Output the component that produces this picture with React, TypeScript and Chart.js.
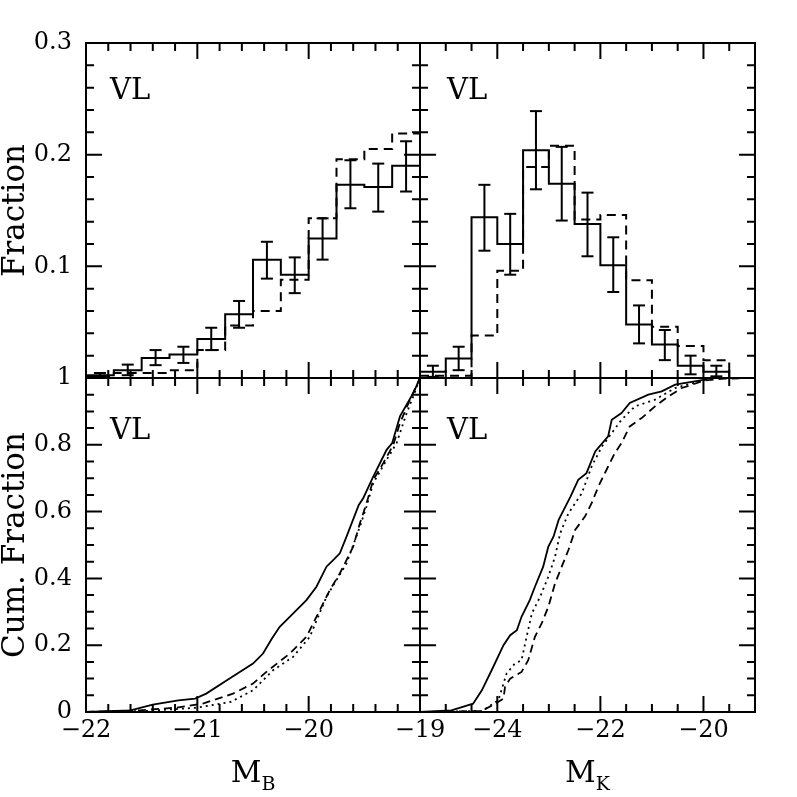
import { useEffect, useRef } from "react";
import Chart from "chart.js/auto";

const FONT = "'DejaVu Serif', 'Liberation Serif', serif";
Chart.defaults.font.family = FONT;
Chart.defaults.color = "#000";

// ---- top left: M_B distribution, 0.25 mag bins
const bEdges = [-22, -21.75, -21.5, -21.25, -21, -20.75, -20.5, -20.25, -20, -19.75, -19.5, -19.25, -19];
const bSolid = [0.0025, 0.007, 0.018, 0.021, 0.035, 0.057, 0.106, 0.0925, 0.125, 0.173, 0.171, 0.19];
const bSolidHi = [0.0045, 0.012, 0.025, 0.028, 0.045, 0.069, 0.122, 0.108, 0.143, 0.195, 0.192, 0.212];
const bSolidLo = [0.001, 0.0025, 0.0115, 0.0135, 0.025, 0.045, 0.089, 0.076, 0.106, 0.152, 0.149, 0.167];
const bDashed = [0.0015, 0.0045, 0.0045, 0.007, 0.025, 0.047, 0.06, 0.088, 0.143, 0.196, 0.205, 0.219];

// ---- top right: M_K distribution, 0.5 mag bins
const kEdges = [-25.5, -25, -24.5, -24, -23.5, -23, -22.5, -22, -21.5, -21, -20.5, -20, -19.5, -19];
const kSolid = [0.0055, 0.0175, 0.144, 0.12, 0.204, 0.174, 0.138, 0.101, 0.048, 0.03, 0.011, 0.0055, 0];
const kSolidHi = [0.011, 0.028, 0.173, 0.147, 0.239, 0.207, 0.166, 0.126, 0.065, 0.043, 0.02, 0.011];
const kSolidLo = [0.001, 0.007, 0.114, 0.0925, 0.169, 0.141, 0.109, 0.077, 0.031, 0.016, 0.0033, 0.0015];
const kDashed = [0.002, 0.002, 0.038, 0.096, 0.189, 0.208, 0.142, 0.146, 0.0875, 0.046, 0.0287, 0.016, 0];

// ---- bottom left: cumulative M_B
const bCumSolidX = [-22, -21.6, -21.4, -21.17, -21.02, -20.92, -20.71, -20.5, -20.41, -20.33, -20.26, -20.17, -20.02, -19.93, -19.84, -19.78, -19.72, -19.66, -19.55, -19.51, -19.42, -19.3, -19.25, -19.18, -19.06, -19];
const bCumSolidY = [0, 0.005, 0.022, 0.035, 0.04, 0.055, 0.1, 0.145, 0.175, 0.22, 0.255, 0.285, 0.335, 0.375, 0.435, 0.455, 0.475, 0.525, 0.62, 0.64, 0.705, 0.785, 0.805, 0.885, 0.955, 1];
const bCumDashX = [-22, -21.52, -21.19, -20.95, -20.68, -20.5, -20.38, -20.17, -20.02, -19.96, -19.81, -19.72, -19.6, -19.54, -19.48, -19.42, -19.33, -19.24, -19.18, -19.09, -19];
const bCumDashY = [0, 0.005, 0.013, 0.025, 0.055, 0.085, 0.12, 0.175, 0.225, 0.265, 0.365, 0.415, 0.495, 0.565, 0.625, 0.695, 0.745, 0.8, 0.865, 0.935, 1];
const bCumDotX = [-22, -21.46, -21.0, -20.7, -20.5, -20.32, -20.14, -19.99, -19.84, -19.66, -19.54, -19.48, -19.42, -19.3, -19.21, -19.12, -19.06, -19];
const bCumDotY = [0, 0.003, 0.013, 0.03, 0.065, 0.125, 0.165, 0.225, 0.345, 0.445, 0.555, 0.615, 0.685, 0.755, 0.805, 0.895, 0.945, 1];

// ---- bottom right: cumulative M_K
const kCumSolidX = [-25.5, -24.89, -24.47, -24.3, -24.11, -23.88, -23.75, -23.62, -23.53, -23.37, -23.27, -23.11, -23.01, -22.91, -22.81, -22.58, -22.43, -22.27, -22.1, -21.85, -21.78, -21.59, -21.43, -21.07, -20.81, -20.55, -19.97, -19.9, -19];
const kCumSolidY = [0, 0.005, 0.025, 0.065, 0.125, 0.2, 0.23, 0.245, 0.285, 0.335, 0.375, 0.435, 0.495, 0.525, 0.575, 0.645, 0.695, 0.715, 0.78, 0.825, 0.875, 0.895, 0.925, 0.95, 0.96, 0.98, 0.995, 1, 1];
const kCumDotX = [-25.5, -24.3, -23.98, -23.82, -23.66, -23.53, -23.46, -23.33, -23.17, -23.01, -22.88, -22.78, -22.62, -22.49, -22.36, -22.17, -21.97, -21.78, -21.59, -21.33, -20.94, -20.55, -19.97, -19.9];
const kCumDotY = [0, 0.003, 0.035, 0.115, 0.145, 0.155, 0.205, 0.295, 0.345, 0.405, 0.465, 0.535, 0.595, 0.625, 0.655, 0.735, 0.795, 0.835, 0.875, 0.915, 0.935, 0.97, 0.995, 1];
const kCumDashX = [-25.5, -24.3, -24.04, -23.88, -23.85, -23.75, -23.53, -23.4, -23.27, -23.14, -23.01, -22.88, -22.75, -22.62, -22.49, -22.3, -22.17, -22.04, -21.85, -21.72, -21.59, -21.43, -21.2, -20.94, -20.68, -20.42, -19.97, -19.58, -19.13];
const kCumDashY = [0, 0.003, 0.025, 0.04, 0.075, 0.1, 0.12, 0.155, 0.225, 0.265, 0.315, 0.385, 0.435, 0.485, 0.545, 0.585, 0.625, 0.675, 0.735, 0.775, 0.805, 0.855, 0.88, 0.915, 0.945, 0.97, 0.993, 0.998, 1];

// ---- tick labels
const topYLabels = [0.1, 0.2, 0.3];
const botYLabels = [0, 0.2, 0.4, 0.6, 0.8, 1];
const bXLabels = [-22, -21, -20, -19];
const kXLabels = [-24, -22, -20];

const W = 797;

const steps = (edges: number[], vals: number[]) => [
  ...vals.map((v, i) => ({ x: edges[i], y: v })),
  { x: edges[edges.length - 1], y: vals[vals.length - 1] },
];

const errBars = (edges: number[], lo: number[], hi: number[]) =>
  lo.flatMap((l, i) => {
    const c = (edges[i] + edges[i + 1]) / 2;
    return [{ x: c, y: l }, { x: c, y: hi[i] }, { x: c, y: null }];
  });

const errCaps = (edges: number[], lo: number[], hi: number[]) =>
  lo.flatMap((l, i) => {
    const c = (edges[i] + edges[i + 1]) / 2;
    return [{ x: c, y: l }, { x: c, y: hi[i] }];
  });

const xy = (xs: number[], ys: number[]) => xs.map((x, i) => ({ x, y: ys[i] }));

const line = (data: any[], dash: number[] = [], extra: any = {}) => ({
  data,
  borderColor: "#000",
  borderWidth: 2,
  borderDash: dash,
  pointRadius: 0,
  fill: false,
  ...extra,
});

const histSets = (edges: number[], solid: number[], lo: number[], hi: number[], dashed: number[]) => [
  line(steps(edges, dashed), [9, 6], { stepped: "before" }),
  line(steps(edges, solid), [], { stepped: "before" }),
  line(errBars(edges, lo, hi), [], { spanGaps: false }),
  {
    data: errCaps(edges, lo, hi),
    showLine: false,
    pointStyle: "line",
    pointRadius: 6,
    pointBorderWidth: 2,
    pointBorderColor: "#000",
    borderColor: "#000",
  },
];

// frame, inward ticks, panel tag and axis name
const framePlugin = {
  id: "frame",
  afterDatasetsDraw(chart: any, _args: any, o: any) {
    const { ctx, chartArea: a } = chart;
    const xs = chart.scales.x;
    const ys = chart.scales.y;
    const marks = (min: number, max: number, minor: number, major: number) => {
      const out: { v: number; big: boolean }[] = [];
      for (let i = Math.ceil(min / minor - 1e-6); i <= Math.floor(max / minor + 1e-6); i++) {
        const v = i * minor;
        const r = v / major;
        out.push({ v, big: Math.abs(r - Math.round(r)) < 1e-6 });
      }
      return out;
    };
    ctx.save();
    ctx.strokeStyle = "#000";
    ctx.lineWidth = 2;
    ctx.strokeRect(a.left, a.top, a.right - a.left, a.bottom - a.top);
    ctx.beginPath();
    for (const t of marks(xs.min, xs.max, o.xMinor, o.xMajor)) {
      const p = xs.getPixelForValue(t.v);
      const len = t.big ? 16 : 8;
      ctx.moveTo(p, a.bottom);
      ctx.lineTo(p, a.bottom - len);
      ctx.moveTo(p, a.top);
      ctx.lineTo(p, a.top + len);
    }
    for (const t of marks(ys.min, ys.max, o.yMinor, o.yMajor)) {
      const p = ys.getPixelForValue(t.v);
      const len = t.big ? 16 : 8;
      ctx.moveTo(a.left, p);
      ctx.lineTo(a.left + len, p);
      ctx.moveTo(a.right, p);
      ctx.lineTo(a.right - len, p);
    }
    ctx.stroke();
    ctx.fillStyle = "#000";
    ctx.textBaseline = "alphabetic";
    ctx.textAlign = "left";
    ctx.font = `29px ${FONT}`;
    ctx.fillText("VL", a.left + o.tagX, a.top + o.tagY);
    if (o.xName) {
      ctx.font = `30px ${FONT}`;
      const wM = ctx.measureText("M").width;
      ctx.font = `19px ${FONT}`;
      const wS = ctx.measureText(o.xName).width;
      const sx = (a.left + a.right) / 2 - (wM + wS) / 2;
      ctx.font = `30px ${FONT}`;
      ctx.fillText("M", sx, 782);
      ctx.font = `19px ${FONT}`;
      ctx.fillText(o.xName, sx + wM, 790);
    }
    ctx.restore();
  },
};

type PanelSpec = {
  area: { l: number; r: number; t: number; b: number };
  xMin: number;
  xMax: number;
  yMax: number;
  datasets: any[];
  xLabels?: number[];
  yLabels?: number[];
  yTitle?: string;
  frame: any;
};

const makeConfig = (p: PanelSpec): any => ({
  type: "line",
  data: { datasets: p.datasets },
  plugins: [framePlugin],
  options: {
    animation: false,
    responsive: true,
    maintainAspectRatio: false,
    events: [],
    layout: {
      padding: {
        left: p.yLabels ? 0 : p.area.l,
        right: W - p.area.r,
        top: p.area.t,
        bottom: p.xLabels ? 0 : W - p.area.b,
      },
    },
    plugins: { legend: { display: false }, tooltip: { enabled: false }, frame: p.frame },
    scales: {
      x: {
        type: "linear",
        min: p.xMin,
        max: p.xMax,
        display: !!p.xLabels,
        grid: { display: false, drawTicks: false },
        border: { display: false },
        ticks: {
          font: { size: 24 },
          padding: 4,
          autoSkip: false,
          maxRotation: 0,
          callback: (v: number) => String(v).replace("-", "\u2212"),
        },
        afterBuildTicks: (s: any) => {
          if (p.xLabels) s.ticks = p.xLabels.map((v) => ({ value: v }));
        },
        afterFit: (s: any) => {
          s.height = p.xLabels ? W - p.area.b : 0;
        },
      },
      y: {
        type: "linear",
        min: 0,
        max: p.yMax,
        display: !!p.yLabels,
        grid: { display: false, drawTicks: false },
        border: { display: false },
        title: {
          display: !!p.yTitle,
          text: p.yTitle,
          font: { size: 31, lineHeight: 1 },
          padding: 0,
        },
        ticks: {
          font: { size: 24 },
          padding: 14,
          autoSkip: false,
          callback: (v: number) => String(v),
        },
        afterBuildTicks: (s: any) => {
          if (p.yLabels) s.ticks = p.yLabels.map((v) => ({ value: v }));
        },
        afterFit: (s: any) => {
          s.width = p.yLabels ? p.area.l : 0;
        },
      },
    },
  },
});

const Panel = ({ spec }: { spec: PanelSpec }) => {
  const ref = useRef<HTMLCanvasElement>(null);
  useEffect(() => {
    if (!ref.current) return;
    const chart = new Chart(ref.current, makeConfig(spec));
    return () => chart.destroy();
  }, []);
  return (
    <div style={{ position: "absolute", left: 0, top: 0, width: W, height: W }}>
      <canvas ref={ref} />
    </div>
  );
};

const L = 86, MX = 420, R = 755, T = 43, MY = 378, B = 712;

const panels: PanelSpec[] = [
  {
    area: { l: L, r: MX, t: T, b: MY },
    xMin: -22, xMax: -19, yMax: 0.3,
    datasets: histSets(bEdges, bSolid, bSolidLo, bSolidHi, bDashed),
    yLabels: topYLabels,
    yTitle: "Fraction",
    frame: { xMinor: 0.2, xMajor: 1, yMinor: 0.02, yMajor: 0.1, tagX: 24, tagY: 56 },
  },
  {
    area: { l: MX, r: R, t: T, b: MY },
    xMin: -25.5, xMax: -19, yMax: 0.3,
    datasets: histSets(kEdges, kSolid, kSolidLo, kSolidHi, kDashed),
    frame: { xMinor: 0.5, xMajor: 2, yMinor: 0.02, yMajor: 0.1, tagX: 27, tagY: 56 },
  },
  {
    area: { l: L, r: MX, t: MY, b: B },
    xMin: -22, xMax: -19, yMax: 1,
    datasets: [
      line(xy(bCumDotX, bCumDotY), [2, 4], { borderWidth: 1.8 }),
      line(xy(bCumDashX, bCumDashY), [8, 5], { borderWidth: 1.8 }),
      line(xy(bCumSolidX, bCumSolidY), [], { borderWidth: 1.8 }),
    ],
    xLabels: bXLabels,
    yLabels: botYLabels,
    yTitle: "Cum. Fraction",
    frame: { xMinor: 0.2, xMajor: 1, yMinor: 0.05, yMajor: 0.2, tagX: 24, tagY: 61, xName: "B" },
  },
  {
    area: { l: MX, r: R, t: MY, b: B },
    xMin: -25.5, xMax: -19, yMax: 1,
    datasets: [
      line(xy(kCumDotX, kCumDotY), [2, 4], { borderWidth: 1.8 }),
      line(xy(kCumDashX, kCumDashY), [8, 5], { borderWidth: 1.8 }),
      line(xy(kCumSolidX, kCumSolidY), [], { borderWidth: 1.8 }),
    ],
    xLabels: kXLabels,
    frame: { xMinor: 0.5, xMajor: 2, yMinor: 0.05, yMajor: 0.2, tagX: 27, tagY: 61, xName: "K" },
  },
];

export default function App() {
  return (
    <div style={{ position: "absolute", left: 0, top: 0, width: W, height: W, background: "#fff" }}>
      {panels.map((p, i) => (
        <Panel key={i} spec={p} />
      ))}
    </div>
  );
}
